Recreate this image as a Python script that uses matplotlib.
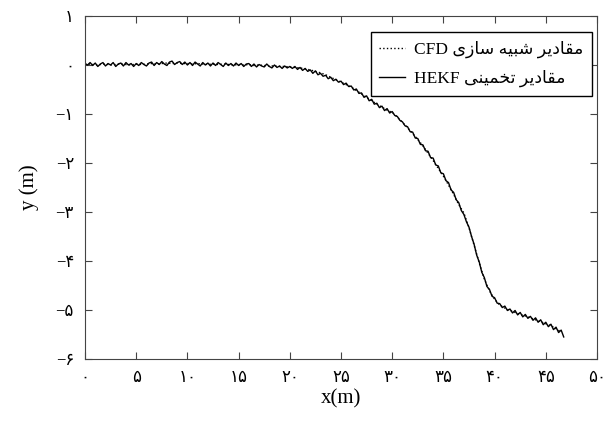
import numpy as np
import matplotlib
matplotlib.use("Agg")
import matplotlib.pyplot as plt

# ---------------- data ----------------
# HEKF estimate, sampled every 0.25 m from x = 0
hekf_y = [
    0.03,
    0.00, 0.05, -0.01, 0.04, -0.03, 0.02, 0.05, -0.02, 0.03, 0.00,
    0.05, -0.03, 0.02, 0.04, -0.02, 0.05, 0.00, 0.03, -0.03, 0.03,
    -0.01, 0.05, 0.01, -0.02, 0.04, 0.06, -0.01, 0.05, 0.01, 0.07,
    0.02, -0.01, 0.06, 0.08, 0.01, 0.05, 0.07, 0.01, 0.06, 0.00,
    0.05, -0.01, 0.06, 0.02, -0.02, 0.05, 0.00, 0.04, -0.02, 0.04,
    -0.01, 0.05, 0.01, -0.03, 0.04, -0.01, 0.03, -0.02, 0.04, -0.01,
    0.03, -0.03, 0.02, 0.03, -0.03, 0.02, -0.04, 0.01, -0.02, -0.04,
    0.02, -0.03, -0.06, 0.00, -0.05, -0.02, -0.07, -0.02, -0.06, -0.03,
    -0.07, -0.03, -0.09, -0.05, -0.11, -0.07, -0.13, -0.10, -0.17, -0.12,
    -0.20, -0.17, -0.23, -0.21, -0.28, -0.25, -0.32, -0.29, -0.35, -0.33,
    -0.40, -0.37, -0.44, -0.43, -0.51, -0.49, -0.58, -0.57, -0.66, -0.63,
    -0.73, -0.70, -0.80, -0.78, -0.87, -0.84, -0.93, -0.89, -0.98, -0.95,
    -1.03, -1.05, -1.13, -1.16, -1.24, -1.26, -1.36, -1.37, -1.49, -1.50,
    -1.62, -1.63, -1.75, -1.76, -1.89, -1.90, -2.04, -2.06, -2.20, -2.22,
    -2.36, -2.40, -2.55, -2.60, -2.75, -2.81, -2.97, -3.05, -3.20, -3.31,
    -3.50, -3.66, -3.88, -4.02, -4.23, -4.34, -4.52, -4.58, -4.72, -4.75,
    -4.86, -4.87, -4.95, -4.92, -5.01, -4.98, -5.06, -5.01, -5.10, -5.05,
    -5.14, -5.09, -5.17, -5.13, -5.21, -5.16, -5.25, -5.20, -5.30, -5.25,
    -5.34, -5.29, -5.40, -5.35, -5.46, -5.41, -5.55,
]
hekf_step = 0.25

# CFD simulation, sampled every 0.5 m from x = 0
cfd_y = [
    0.01, 0.02, 0.00, 0.01, 0.02, 0.00, 0.01, 0.02, 0.01, 0.00, 0.02,
    0.01, 0.02, 0.03, 0.02, 0.03, 0.04, 0.03, 0.04, 0.03, 0.03,
    0.02, 0.03, 0.02, 0.01, 0.02, 0.01, 0.02, 0.01, 0.00, 0.01,
    0.00, 0.01, -0.01, 0.00, -0.01, -0.02, -0.02, -0.03, -0.03, -0.04,
    -0.05, -0.06, -0.08, -0.10, -0.13, -0.16, -0.20, -0.25, -0.30, -0.35,
    -0.40, -0.45, -0.52, -0.59, -0.66, -0.73, -0.80, -0.86, -0.92, -0.97,
    -1.06, -1.17, -1.28, -1.40, -1.52, -1.65, -1.80, -1.95, -2.11, -2.27,
    -2.45, -2.64, -2.85, -3.02, -3.32, -3.68, -4.04, -4.37, -4.61, -4.78,
    -4.90, -4.96, -5.01, -5.05, -5.09, -5.12, -5.16, -5.20, -5.24, -5.28,
    -5.32, -5.38, -5.45,
]
cfd_step = 0.5

x_ticks = [0, 5, 10, 15, 20, 25, 30, 35, 40, 45, 50]
x_ticklabels = ["۰", "۵", "۱۰", "۱۵", "۲۰", "۲۵", "۳۰", "۳۵", "۴۰", "۴۵", "۵۰"]
y_ticks = [1, 0, -1, -2, -3, -4, -5, -6]
y_ticklabels = ["۱", "۰", "−۱", "−۲", "−۳", "−۴", "−۵", "−۶"]
legend_labels = ["مقادیر شبیه سازی CFD", "مقادیر تخمینی HEKF"]
x_label = "x(m)"
y_label = "y (m)"

# ---------------- simple Persian shaping (presentation forms) ----------------
FORMS = {
    "م": ("\uFEE1", "\uFEE2", "\uFEE3", "\uFEE4"),
    "ق": ("\uFED5", "\uFED6", "\uFED7", "\uFED8"),
    "ا": ("\uFE8D", "\uFE8E"),
    "د": ("\uFEA9", "\uFEAA"),
    "ی": ("\uFEEF", "\uFEF0", "\uFEF3", "\uFEF4"),
    "ر": ("\uFEAD", "\uFEAE"),
    "ش": ("\uFEB5", "\uFEB6", "\uFEB7", "\uFEB8"),
    "ب": ("\uFE8F", "\uFE90", "\uFE91", "\uFE92"),
    "ه": ("\uFEE9", "\uFEEA", "\uFEEB", "\uFEEC"),
    "س": ("\uFEB1", "\uFEB2", "\uFEB3", "\uFEB4"),
    "ز": ("\uFEAF", "\uFEB0"),
    "ت": ("\uFE95", "\uFE96", "\uFE97", "\uFE98"),
    "خ": ("\uFEA5", "\uFEA6", "\uFEA7", "\uFEA8"),
    "ن": ("\uFEE5", "\uFEE6", "\uFEE7", "\uFEE8"),
}


def shape_word(w):
    out = []
    for i, ch in enumerate(w):
        f = FORMS.get(ch)
        if f is None:
            out.append(ch)
            continue
        prev = w[i - 1] if i > 0 else None
        nxt = w[i + 1] if i < len(w) - 1 else None
        jp = prev is not None and prev in FORMS and len(FORMS[prev]) == 4
        jn = nxt is not None and nxt in FORMS and len(f) == 4
        if jp and jn:
            out.append(f[3])
        elif jp:
            out.append(f[1])
        elif jn:
            out.append(f[2])
        else:
            out.append(f[0])
    return "".join(out)


def visual(s):
    words = s.split()
    vis = []
    for w in words:
        if any(c in FORMS for c in w):
            vis.append(shape_word(w)[::-1])
        else:
            vis.append(w)
    return " ".join(reversed(vis))


# ---------------- plot ----------------
FAM = ["Liberation Serif", "DejaVu Sans"]
plt.rcParams["font.family"] = FAM

fig = plt.figure(figsize=(6.05, 4.21), dpi=100)
ax = fig.add_axes([85 / 605, 1 - 359 / 421, 512 / 605, 343 / 421])

hx = np.arange(len(hekf_y)) * hekf_step
cx = np.arange(len(cfd_y)) * cfd_step
ax.plot(cx, cfd_y, linestyle=":", color="black", linewidth=1.0,
        label=visual(legend_labels[0]))
ax.plot(hx, hekf_y, linestyle="-", color="black", linewidth=1.0,
        label=visual(legend_labels[1]))

ax.set_xlim(0, 50)
ax.set_ylim(-6, 1)
ax.set_xticks(x_ticks)
ax.set_xticklabels(x_ticklabels, fontsize=12, family=FAM)
ax.set_yticks(y_ticks)
ax.set_yticklabels(y_ticklabels, fontsize=12, family=FAM)
ax.tick_params(direction="in", top=True, right=True, length=5, width=0.8,
               color="#444444", pad=8)
for sp in ax.spines.values():
    sp.set_color("#444444")
    sp.set_linewidth(0.8)

ax.set_xlabel(x_label, fontsize=15, labelpad=2)
ax.set_ylabel(y_label, fontsize=15, labelpad=12)

leg = ax.legend(loc="upper right", bbox_to_anchor=(0.99, 0.952),
                borderaxespad=0, fancybox=False, edgecolor="black",
                framealpha=1, prop={"family": FAM, "size": 12.5},
                handlelength=1.5, handletextpad=0.5, borderpad=0.5,
                labelspacing=0.65)
leg.get_frame().set_linewidth(1.0)

fig.savefig("out.png", dpi=100)
